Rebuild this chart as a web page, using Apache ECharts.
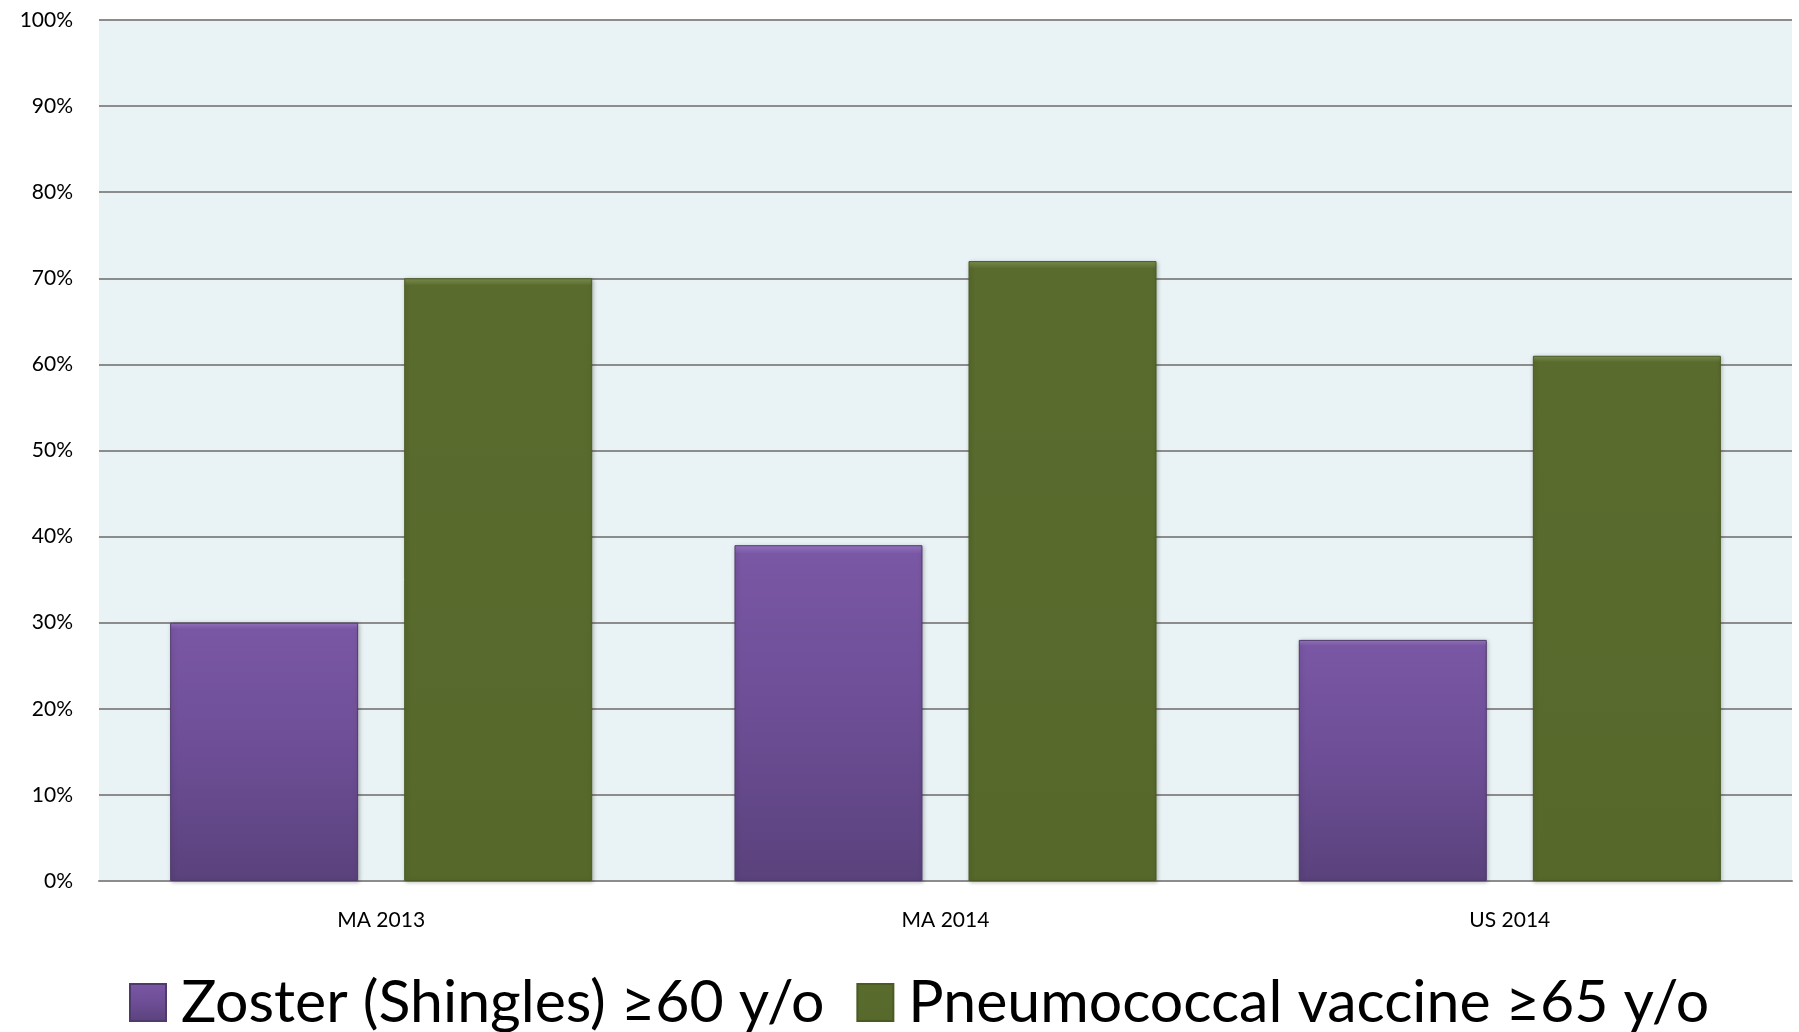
<!DOCTYPE html>
<html>
<head>
<meta charset="utf-8">
<script src="https://cdn.jsdelivr.net/npm/echarts@6/dist/echarts.min.js"></script>
<style>html,body{margin:0;padding:0;background:#fff}#c{width:1799px;height:1032px}</style>
</head>
<body>
<div id="c"></div>
<script>
const categories = ['MA 2013', 'MA 2014', 'US 2014'];
const seriesNames = ['Zoster (Shingles) ≥60 y/o', 'Pneumococcal vaccine ≥65 y/o'];
const zosterValues = [30, 39, 28];
const pneumoValues = [70, 72, 61];
const yTicks = [0, 10, 20, 30, 40, 50, 60, 70, 80, 90, 100];

const chart = echarts.init(document.getElementById('c'), null, {renderer: 'canvas'});
const purple = new echarts.graphic.LinearGradient(0, 0, 0, 1, [
  {offset: 0, color: '#9a78c8'}, {offset: 0.025, color: '#7a57a4'}, {offset: 0.5, color: '#6d4e96'}, {offset: 1, color: '#5a427c'}
]);
const green = new echarts.graphic.LinearGradient(0, 0, 0, 1, [
  {offset: 0, color: '#7f9450'}, {offset: 0.012, color: '#5a6b2e'}, {offset: 1, color: '#56692b'}
]);
chart.setOption({
  animation: false,
  textStyle: {fontFamily: 'Lato'},
  grid: {left: 99, right: 7, top: 20, bottom: 151, show: true, backgroundColor: '#e9f2f4', borderWidth: 0},
  legend: {
    top: 968, left: 124, itemWidth: 36, itemHeight: 37, itemGap: 32,
    icon: 'rect',
    textStyle: {fontSize: 59, color: '#000', fontFamily: 'Lato', padding: [0, 0, 0, 10]},
    data: seriesNames
  },
  xAxis: {
    type: 'category', data: categories,
    axisLine: {lineStyle: {color: '#8c8c8c', width: 2}},
    axisTick: {show: false},
    axisLabel: {fontSize: 21, color: '#000', margin: 29, fontFamily: 'Lato'}
  },
  yAxis: {
    type: 'value', min: yTicks[0], max: yTicks[yTicks.length - 1], interval: 10,
    axisLine: {show: false}, axisTick: {show: false},
    axisLabel: {fontSize: 21, color: '#000', margin: 26, formatter: '{value}%', fontFamily: 'Lato'},
    splitLine: {lineStyle: {color: '#8c8c8c', width: 2}}
  },
  series: [
    {name: seriesNames[0], type: 'bar', data: zosterValues, barWidth: 188, barGap: '24.5%',
     itemStyle: {color: purple, borderColor: '#4f3a6c', borderWidth: 1, shadowColor: 'rgba(0,0,0,0.25)', shadowBlur: 4, shadowOffsetX: 1, shadowOffsetY: 1}},
    {name: seriesNames[1], type: 'bar', data: pneumoValues, barWidth: 188,
     itemStyle: {color: green, borderColor: '#4a5a24', borderWidth: 1, shadowColor: 'rgba(0,0,0,0.25)', shadowBlur: 4, shadowOffsetX: 1, shadowOffsetY: 1}}
  ]
});
</script>
</body>
</html>
